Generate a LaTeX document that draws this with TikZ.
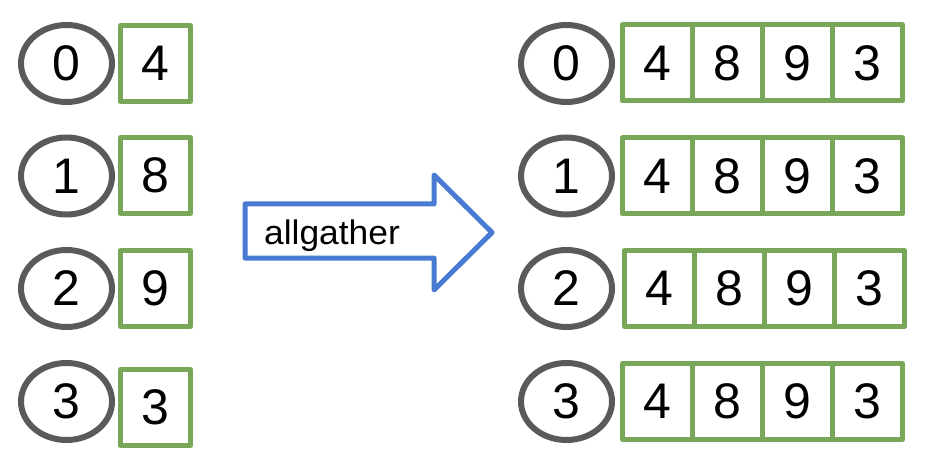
\documentclass[tikz,border=0pt]{standalone}
\usepackage{fontspec}
\setmainfont{Liberation Sans}
\usetikzlibrary{shapes.geometric}
\definecolor{rankgray}{HTML}{5A5A5A}
\definecolor{cellgreen}{HTML}{78A75A}
\definecolor{arrowblue}{HTML}{4A7BD3}
\newcommand{\digitfont}{\fontsize{50}{60}\selectfont}
\tikzset{
  rank/.style={ellipse, draw=rankgray, line width=6pt, minimum width=91pt, minimum height=77pt, inner sep=0pt, font=\digitfont},
  cell/.style={rectangle, draw=cellgreen, line width=5pt, line join=round, minimum width=70pt, minimum height=76pt, inner sep=0pt, font=\digitfont},
  arrowline/.style={draw=arrowblue, line width=5pt, line join=round, fill=white},
}
\begin{document}
\begin{tikzpicture}[x=1pt,y=-1pt]
\useasboundingbox[fill=white] (0,0) rectangle (930,468);
% left side
\node[rank] (L0) at (66.5,63.5) {0};
\node[rank] (L1) at (66.5,176) {1};
\node[rank] (L2) at (66.5,288.5) {2};
\node[rank] (L3) at (66.5,401.5) {3};
\node[cell] (B0) at (155.5,63.5) {4};
\node[cell] (B1) at (155.5,175.5) {8};
\node[cell] (B2) at (155.5,288.5) {9};
\node[cell] (B3) at (155.5,407.5) {3};
% arrow
\draw[arrowline] (245,204) -- (434,204) -- (434,175) -- (492,232.5) -- (434,290) -- (434,258) -- (245,258) -- cycle;
\node[anchor=base west, inner sep=0pt] (lbl) at (264,244) {\scalebox{1.04}[1]{\fontsize{34}{40}\selectfont allgather}};
% right side
\node[rank] (R0) at (566.5,63.5) {0};
\node[rank] (R1) at (566.5,176) {1};
\node[rank] (R2) at (566.5,288.5) {2};
\node[rank] (R3) at (566.5,401.5) {3};
\foreach \r/\y/\xs in {0/63/657.5, 1/176/657.5, 2/288.5/659.5, 3/401.5/657.5}{
  \node[cell] (C\r a) at (\xs,\y) {4};
  \node[cell] (C\r b) at (\xs+70,\y) {8};
  \node[cell] (C\r c) at (\xs+140,\y) {9};
  \node[cell] (C\r d) at (\xs+210,\y) {3};
}
\end{tikzpicture}
\end{document}
